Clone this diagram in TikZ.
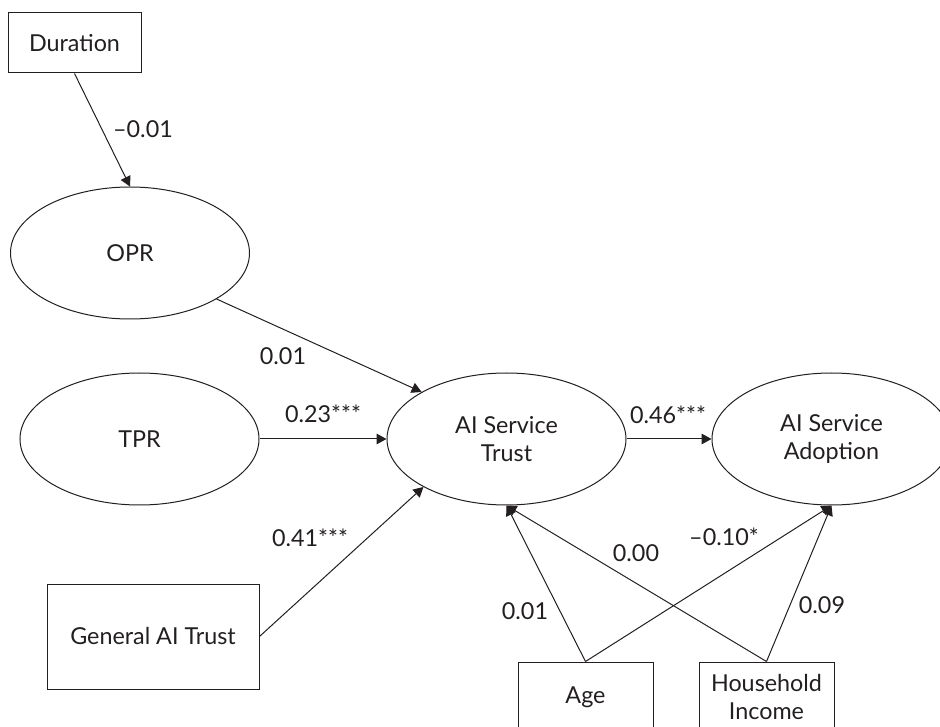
\documentclass[tikz,border=0pt]{standalone}
\usepackage{fontspec}
\setmainfont{Lato}
\usetikzlibrary{arrows.meta,shapes.geometric}
\definecolor{ink}{RGB}{35,31,32}
\begin{document}
\begin{tikzpicture}[x=0.75pt,y=-0.75pt,
  every node/.style={font=\fontsize{17.5}{21}\selectfont, text=ink},
  latent/.style={draw=ink, ellipse, minimum width=179.25pt, minimum height=99pt, inner sep=0pt, line width=0.75pt, align=center},
  obsbox/.style={draw=ink, rectangle, inner sep=0pt, line width=0.75pt, align=center},
  path/.style={draw=ink, line width=0.75pt, -{Triangle[length=7.5pt,width=8pt]}},
  coef/.style={inner sep=0pt}]
\path[use as bounding box, clip] (0,0) rectangle (940,727);
% nodes
\node[obsbox, minimum width=99.75pt, minimum height=45pt] (Dur) at (74.5,43) {Duration};
\node[latent] (OPR) at (130,253) {OPR};
\node[latent] (TPR) at (139.5,439) {TPR};
\node[latent] (Trust) at (506.5,439) {AI Service\\Trust};
\node[latent] (Adopt) at (831.5,439) {AI Service\\Adoption};
\node[obsbox, minimum width=159pt, minimum height=78.75pt] (Gen) at (153,636.5) {General AI Trust};
\node[obsbox, minimum width=101.25pt, minimum height=52.5pt] (Age) at (585.5,697) {Age};
\node[obsbox, minimum width=101.25pt, minimum height=52.5pt] (Inc) at (766.5,697) {Household\\Income};
% connectors
\draw[path] (Dur.south) -- (OPR.north);
\draw[path] (OPR.332) -- (Trust.151);
\draw[path] (TPR.east) -- (Trust.west);
\draw[path] (Gen.east) -- (Trust.210);
\draw[path] (Trust.east) -- (Adopt.west);
\draw[path] (Age.north) -- (Trust.south);
\draw[path] (Inc.north) -- (Trust.south);
\draw[path] (Age.north) -- (Adopt.south);
\draw[path] (Inc.north) -- (Adopt.south);
% coefficients
\node[coef] (c1) at (143,129) {–0.01};
\node[coef] (c2) at (283,356) {0.01};
\node[coef] (c3) at (323,414) {0.23***};
\node[coef] (c4) at (310,538) {0.41***};
\node[coef] (c5) at (668,415) {0.46***};
\node[coef] (c6) at (525,611) {0.01};
\node[coef] (c7) at (636,553) {0.00};
\node[coef] (c8) at (724,537) {–0.10*};
\node[coef] (c9) at (822,605) {0.09};
\end{tikzpicture}
\end{document}
